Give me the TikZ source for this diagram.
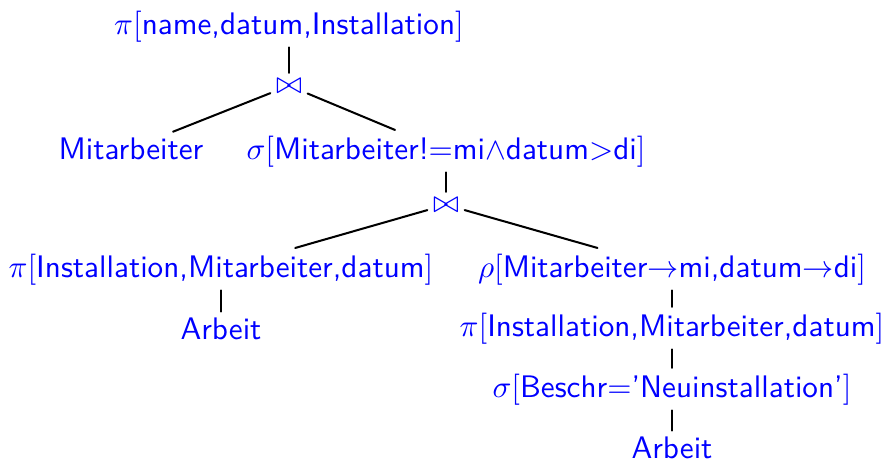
\documentclass[tikz,border=0pt]{standalone}
\usepackage{amssymb}
\tikzstyle{every node}=[font=\sffamily,text=blue]
\tikzstyle{every path}=[line width=0.65pt,line cap=round,line join=round]
\tikzstyle{op}=[anchor=base,inner sep=1.5pt]
\tikzstyle{edge}=[black]

\begin{document}
\begin{tikzpicture}[x=0.321pt,y=-0.321pt]
    \useasboundingbox (0,0) rectangle (882,463);

    % Root projection and first join
    \node[op] (proj1) at (289,34) {$\pi[\mbox{name,datum,Installation}]$};
    \node[op] (join1) at (289,93) {$\bowtie$};

    % Second level
    \node[op] (mit) at (131,159) {Mitarbeiter};
    \node[op] (sel1) at (446,159) {$\sigma[\mbox{Mitarbeiter!}{=}\mbox{mi}{\wedge}\mbox{datum}{>}\mbox{di}]$};
    \node[op] (join2) at (446,212) {$\bowtie$};

    % Left leg
    \node[op] (proj2) at (221,277) {$\pi[\mbox{Installation,Mitarbeiter,datum}]$};
    \node[op] (arb1) at (221,339) {Arbeit};

    % Right leg
    \node[op] (ren) at (672,277) {$\rho[\mbox{Mitarbeiter}{\rightarrow}\mbox{mi,datum}{\rightarrow}\mbox{di}]$};
    \node[op] (proj3) at (672,336) {$\pi[\mbox{Installation,Mitarbeiter,datum}]$};
    \node[op] (sel2) at (672,397) {$\sigma[\mbox{Beschr}{=}\mbox{'Neuinstallation'}]$};
    \node[op] (arb2) at (672,458) {Arbeit};

    % Edges
    \draw[edge] (proj1) -- (join1);
    \draw[edge] (join1) -- (mit);
    \draw[edge] (join1) -- (sel1);
    \draw[edge] (sel1) -- (join2);
    \draw[edge] (join2) -- (proj2);
    \draw[edge] (join2) -- (ren);
    \draw[edge] (proj2) -- (arb1);
    \draw[edge] (ren) -- (proj3);
    \draw[edge] (proj3) -- (sel2);
    \draw[edge] (sel2) -- (arb2);
\end{tikzpicture}
\end{document}
